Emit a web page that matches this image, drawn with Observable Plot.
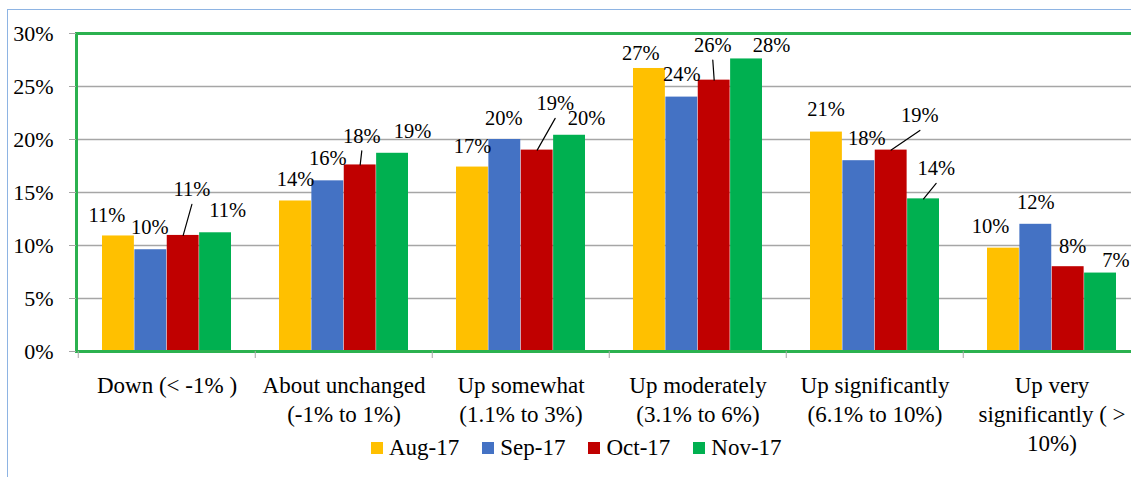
<!DOCTYPE html>
<html><head><meta charset="utf-8">
<script src="https://cdn.jsdelivr.net/npm/d3@7"></script>
<script src="https://cdn.jsdelivr.net/npm/@observablehq/plot@0.6"></script>
<style>
html,body{margin:0;padding:0;background:#fff;overflow:hidden}
#wrap{position:relative;width:1131px;height:477px;overflow:hidden;background:#fff}
#wrap svg{max-width:none;font-family:"Liberation Serif","Times New Roman",Times,"DejaVu Serif","Noto Serif",serif !important}
#wrap svg text{font-family:"Liberation Serif","Times New Roman",Times,"DejaVu Serif","Noto Serif",serif !important}
#border{position:absolute;left:7px;top:9px;width:1200px;height:600px;border:1.5px solid #8eb4e3;pointer-events:none;z-index:2}
.lg-swatches{position:absolute;left:371px;top:435px;height:24px;min-height:0 !important;margin:0 !important;display:flex;align-items:center;font-family:"Liberation Serif","Times New Roman",Times,"DejaVu Serif","Noto Serif",serif !important;font-size:23px !important;color:#000;z-index:3}
.lg-swatches .lg-swatch{margin-right:23px !important}
.lg-swatches .lg-swatch > svg{margin-right:6px !important}
</style></head>
<body><div id="wrap"><div id="border"></div></div>
<script>
// ---- data ----
const categories = ["Down (< -1% )", "About unchanged (-1% to 1%)", "Up somewhat (1.1% to 3%)", "Up moderately (3.1% to 6%)", "Up significantly (6.1% to 10%)", "Up very significantly ( > 10%)"];
const tickLabels = ["Down (< -1% )", "About unchanged\n(-1% to 1%)", "Up somewhat\n(1.1% to 3%)", "Up moderately\n(3.1% to 6%)", "Up significantly\n(6.1% to 10%)", "Up very\nsignificantly ( >\n10%)"];
const series = ["Aug-17", "Sep-17", "Oct-17", "Nov-17"];
const aug = [10.9, 14.2, 17.4, 26.7, 20.7, 9.75];
const sep = [9.6, 16.1, 20.0, 24.0, 18.0, 12.0];
const oct = [10.95, 17.6, 19.0, 25.6, 19.0, 8.0];
const nov = [11.2, 18.7, 20.4, 27.6, 14.4, 7.4];
const yTicks = [0, 5, 10, 15, 20, 25, 30];
const yTickLabels = ["0%", "5%", "10%", "15%", "20%", "25%", "30%"];
const colors = ["#FFC000", "#4472C4", "#C00000", "#00B050"];

// ---- layout of data labels: [dx px, lift px, leader?] per category, per series ----
const labelNudge = [
  [[-11.5, 21], [-1, 22], [8.7, 46, 1], [12, 22]],
  [[0, 22], [0, 22], [1.6, 29, 1], [20, 21.7]],
  [[0, 20.7], [-1, 21], [18, 46.7, 1], [17, 17]],
  [[-8.7, 15], [0, 23], [-1.4, 35, 1], [25, 14]],
  [[-0.5, 23], [8, 22.4], [28.7, 34.7, 1], [12.6, 30.4, 1]],
  [[-13, 22], [0, 22], [4.5, 20.3], [15.4, 12.3]]
];

const values = [aug, sep, oct, nov];
const rows = [];
categories.forEach((c, i) => series.forEach((s, j) => rows.push({cat: c, series: s, value: values[j][i], i, j})));

const W = 1141, H = 477, mL = 76, mT = 33, mB = 126;
const band = (W - mL) / categories.length;
const groupPad = 24;
const barW = (band - 2 * groupPad) / series.length;
const barOffset = j => groupPad + barW * (j + 0.5) - band / 2;
const font = '"Liberation Serif", "Times New Roman", Times, "DejaVu Serif", "Noto Serif", serif';
const lineShape = {draw(ctx, l) { ctx.moveTo(0, 0); ctx.lineTo(0, -l); }};

const marks = [
  Plot.gridY(yTicks, {stroke: "#a6a6a6", strokeOpacity: 1, strokeWidth: 1.3}),
  ...series.map((s, j) => Plot.barY(rows.filter(r => r.j === j), {
    x: "cat", y: "value", fill: colors[j],
    insetLeft: groupPad + barW * j, insetRight: band - groupPad - barW * (j + 1)
  })),
  Plot.frame({stroke: "#2bb14f", strokeWidth: 3}),
  Plot.axisY({ticks: yTicks, tickFormat: d => yTickLabels[yTicks.indexOf(d)], tickSize: 7, tickPadding: 16, fontSize: 22, stroke: "#a6a6a6", strokeOpacity: 1, fill: "#000"}),
  Plot.axisX({tickSize: 0, tickPadding: 21, fontSize: 23, lineHeight: 1.26, tickFormat: d => tickLabels[categories.indexOf(d)], fill: "#000"}),
  Plot.axisX({tickSize: 7, tickFormat: () => "", dx: -band / 2, stroke: "#a6a6a6", strokeOpacity: 1})
];

rows.forEach(r => {
  const [nx, lift, leader] = labelNudge[r.i][r.j];
  if (leader) {
    const vy = lift - 15;
    marks.push(Plot.vector([r], {
      x: "cat", y: "value", dx: barOffset(r.j),
      length: Math.hypot(nx, vy), rotate: Math.atan2(nx, vy) * 180 / Math.PI,
      anchor: "start", shape: lineShape, r: 0, stroke: "#000", strokeWidth: 1.2
    }));
  }
  marks.push(Plot.text([r], {
    x: "cat", y: "value", text: d => Math.round(d.value) + "%",
    dx: barOffset(r.j) + nx, dy: -lift, fontSize: 20.5, fill: "#000"
  }));
});

const chart = Plot.plot({
  width: W, height: H,
  marginLeft: mL, marginRight: 0, marginTop: mT, marginBottom: mB,
  x: {type: "band", domain: categories, padding: 0, label: null},
  y: {domain: [0, 30], label: null},
  style: {fontFamily: font, background: "white", color: "#000"},
  marks
});

const legend = Plot.legend({
  color: {type: "ordinal", domain: series, range: colors},
  legend: "swatches", className: "lg", swatchSize: 12,
  style: {fontFamily: font, fontSize: "23px"}
});

const wrap = document.getElementById("wrap");
wrap.insertBefore(chart, wrap.firstChild);
wrap.appendChild(legend);
</script></body></html>
